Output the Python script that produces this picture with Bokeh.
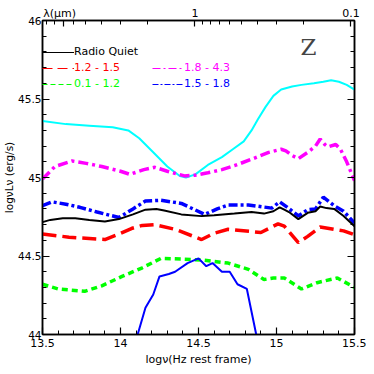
import numpy as np
from bokeh.plotting import figure
from bokeh.models import (Range1d, LinearAxis, FixedTicker, Legend, LegendItem, Label)
from bokeh.embed import file_html
from bokeh.resources import INLINE

# ---------------- data ----------------
cyan_x = [13.50, 13.65, 13.80, 13.95, 14.05, 14.12, 14.20, 14.30, 14.38, 14.42, 14.48, 14.56, 14.65,
          14.72, 14.79, 14.84, 14.88, 14.93, 14.98, 15.03, 15.10, 15.16, 15.24, 15.30, 15.35, 15.40, 15.45, 15.50]
cyan_y = [45.36, 45.34, 45.33, 45.32, 45.30, 45.25, 45.17, 45.07, 45.01, 45.00, 45.02, 45.08, 45.13,
          45.18, 45.23, 45.30, 45.37, 45.45, 45.52, 45.56, 45.58, 45.59, 45.60, 45.61, 45.62, 45.61, 45.59, 45.56]

mag_x = [13.50, 13.58, 13.69, 13.78, 13.88, 14.00, 14.06, 14.15, 14.22, 14.30, 14.41, 14.48, 14.56, 14.65, 14.73,
         14.85, 14.95, 15.03, 15.06, 15.10, 15.14, 15.20, 15.25, 15.28, 15.31, 15.33, 15.38, 15.41, 15.45, 15.50]
mag_y = [44.99, 45.07, 45.105, 45.09, 45.07, 45.04, 45.02, 45.05, 45.065, 45.04, 45.01, 45.015, 45.03, 45.05, 45.075,
         45.12, 45.16, 45.18, 45.17, 45.14, 45.12, 45.16, 45.20, 45.245, 45.21, 45.195, 45.21, 45.18, 45.10, 44.98]

rq_x = [13.50, 13.55, 13.63, 13.71, 13.80, 13.90, 13.99, 14.08, 14.16, 14.23, 14.28, 14.39, 14.52, 14.60, 14.73,
        14.84, 14.92, 14.98, 15.02, 15.05, 15.08, 15.14, 15.20, 15.25, 15.28, 15.32, 15.37, 15.43, 15.50]
rq_y = [44.716, 44.73, 44.74, 44.74, 44.73, 44.72, 44.735, 44.765, 44.795, 44.80, 44.79, 44.765, 44.754, 44.76, 44.77,
        44.78, 44.77, 44.785, 44.81, 44.795, 44.78, 44.735, 44.775, 44.785, 44.815, 44.805, 44.80, 44.755, 44.69]

bdd_x = [13.50, 13.56, 13.65, 13.74, 13.85, 13.99, 14.08, 14.16, 14.26, 14.39, 14.54, 14.62, 14.69, 14.82,
         14.97, 15.02, 15.07, 15.14, 15.20, 15.25, 15.30, 15.37, 15.43, 15.50]
bdd_y = [44.82, 44.845, 44.83, 44.81, 44.78, 44.745, 44.80, 44.85, 44.855, 44.835, 44.765, 44.80, 44.825, 44.825,
         44.805, 44.845, 44.81, 44.755, 44.795, 44.80, 44.875, 44.82, 44.785, 44.71]

red_x = [13.50, 13.67, 13.90, 13.99, 14.07, 14.14, 14.22, 14.35, 14.52, 14.60, 14.69, 14.90, 15.01, 15.05,
         15.08, 15.14, 15.20, 15.28, 15.43, 15.50]
red_y = [44.64, 44.62, 44.605, 44.64, 44.675, 44.695, 44.70, 44.67, 44.605, 44.645, 44.67, 44.65, 44.705, 44.69,
         44.655, 44.585, 44.625, 44.685, 44.66, 44.635]

grn_x = [13.50, 13.60, 13.77, 13.88, 14.01, 14.14, 14.26, 14.40, 14.52, 14.69, 14.82, 14.92, 14.98, 15.05,
         15.16, 15.26, 15.39, 15.50]
grn_y = [44.32, 44.29, 44.275, 44.31, 44.37, 44.425, 44.485, 44.48, 44.475, 44.455, 44.415, 44.35, 44.36, 44.36,
         44.29, 44.33, 44.36, 44.30]

bs_x = [14.08, 14.11, 14.16, 14.21, 14.25, 14.31, 14.35, 14.43, 14.50, 14.55, 14.59, 14.65, 14.70, 14.75,
        14.81, 14.87, 14.89]
bs_y = [43.90, 44.00, 44.17, 44.255, 44.37, 44.385, 44.40, 44.455, 44.485, 44.435, 44.455, 44.40, 44.40, 44.32,
        44.29, 44.00, 43.90]

x_ticks = [13.5, 14, 14.5, 15, 15.5]
x_tick_labels = ["13.5", "14", "14.5", "15", "15.5"]
y_ticks = [44, 44.5, 45, 45.5, 46]
y_tick_labels = ["44", "44.5", "45", "45.5", "46"]
lam_major = [1.0, 0.1]
lam_major_labels = ["1", "0.1"]
lam_minor = [2, 3, 4, 5, 6, 7, 8, 9, 0.9, 0.8, 0.7, 0.6, 0.5, 0.4, 0.3, 0.2]
lam_title_at = 7.0          # the "λ(μm)" caption sits over the 7 μm tick
lam_title = "λ(μm)  "
C_UM = 3e14  # speed of light in micron/s

FONT = "DejaVu Sans"

p = figure(width=366, height=368, output_backend="svg", toolbar_location=None,
           x_range=Range1d(13.5, 15.5), y_range=Range1d(44, 46),
           min_border_left=40, min_border_right=12, min_border_top=20, min_border_bottom=33)
p.grid.visible = False
p.outline_line_color = "black"
p.outline_line_width = 1.5
p.background_fill_color = "white"

# series
p.line(cyan_x, cyan_y, line_color="#00FFFF", line_width=2)
p.line(mag_x, mag_y, line_color="#FF00FF", line_width=3.5, line_dash="10 4 3 4")
p.line(bdd_x, bdd_y, line_color="#0000FF", line_width=3.5, line_dash="9 3 3 3")
p.line(rq_x, rq_y, line_color="black", line_width=2)
p.line(red_x, red_y, line_color="#FF0000", line_width=3.5, line_dash="14 6")
p.line(grn_x, grn_y, line_color="#00FF00", line_width=3.5, line_dash="6 4")
p.line(bs_x, bs_y, line_color="#0000FF", line_width=2)

def style_axis(ax):
    ax.axis_line_width = 1.5
    ax.major_tick_in = 7
    ax.major_tick_out = 0
    ax.minor_tick_in = 4
    ax.minor_tick_out = 0
    ax.major_tick_line_width = 1.2
    ax.minor_tick_line_width = 1
    ax.major_label_text_font = FONT
    ax.major_label_text_font_size = "11px"
    ax.major_label_text_color = "black"
    ax.axis_label_text_font = FONT
    ax.axis_label_text_font_style = "normal"
    ax.axis_label_text_font_size = "11px"
    ax.axis_label_text_color = "black"

# bottom axis
xa = p.xaxis[0]
xa.ticker = FixedTicker(ticks=x_ticks, minor_ticks=[round(13.5 + 0.1 * i, 1) for i in range(21)])
xa.major_label_overrides = {t: l for t, l in zip(x_ticks, x_tick_labels)}
style_axis(xa)
xa.major_label_standoff = 4
xa.axis_label = "logν(Hz rest frame)"
xa.axis_label_standoff = 3

# left axis
ya = p.yaxis[0]
ya.ticker = FixedTicker(ticks=y_ticks, minor_ticks=[round(44 + 0.1 * i, 1) for i in range(21)])
ya.major_label_overrides = {t: l for t, l in zip(y_ticks, y_tick_labels)}
style_axis(ya)
ya.major_label_text_font_size = "10.5px"
ya.axis_label_text_font_size = "10.5px"
ya.major_label_standoff = 1
ya.axis_label = "logνLν (erg/s)"
ya.axis_label_standoff = 0

# right axis (ticks only)
ra = LinearAxis(ticker=FixedTicker(ticks=y_ticks, minor_ticks=[round(44 + 0.1 * i, 1) for i in range(21)]))
style_axis(ra)
ra.major_label_overrides = {t: "" for t in y_ticks}
ra.major_label_standoff = 0
p.add_layout(ra, "right")

# top axis (wavelength)
lam_major_pos = [float(np.log10(C_UM / l)) for l in lam_major]
lam_minor_pos = [float(np.log10(C_UM / l)) for l in lam_minor]
lam_title_pos = float(np.log10(C_UM / lam_title_at))
ta = LinearAxis(ticker=FixedTicker(ticks=[lam_title_pos] + lam_major_pos, minor_ticks=lam_minor_pos))
overrides = {t: l for t, l in zip(lam_major_pos, lam_major_labels)}
overrides[lam_title_pos] = lam_title
ta.major_label_overrides = overrides
style_axis(ta)
ta.major_tick_in = 6
ta.major_label_standoff = 1
p.add_layout(ta, "above")

p.add_layout(Label(x=266, y=288, x_units="screen", y_units="screen", text="Z",
                   text_font="DejaVu Serif", text_font_size="23px", text_baseline="middle", text_align="center"))

# legends (thin samples, coloured labels)
def add_leg(label, color, dash, xloc, yloc):
    r = p.line([np.nan], [np.nan], line_color=color, line_width=1, line_dash=dash)
    leg = Legend(items=[LegendItem(label=label, renderers=[r])], location=(xloc, yloc),
                 padding=0, margin=0, spacing=0, glyph_width=32, glyph_height=12, label_height=12,
                 label_standoff=0, border_line_alpha=0, background_fill_alpha=0,
                 label_text_color=color, label_text_font=FONT, label_text_font_size="11px")
    p.add_layout(leg)

add_leg("Radio Quiet", "black", "solid", 0, 276)
add_leg("1.2 - 1.5", "#FF0000", "10 5", 0, 260)
add_leg("0.1 - 1.2", "#00FF00", "5 3", 0, 244)
add_leg("1.8 - 4.3", "#FF00FF", "8 3 2 3", 110, 260)
add_leg("1.5 - 1.8", "#0000FF", "6 2 2 2", 110, 244)

open("out.html", "w").write(file_html(p, INLINE))
